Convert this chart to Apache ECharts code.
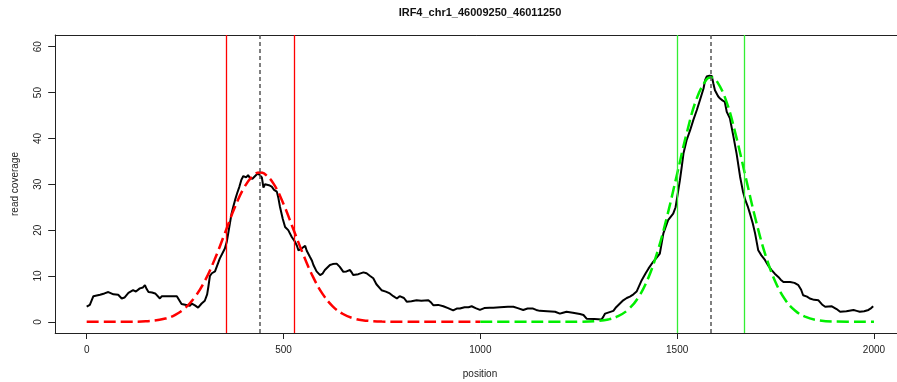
<!DOCTYPE html>
<html><head><meta charset="utf-8">
<script src="https://cdn.jsdelivr.net/npm/echarts@6/dist/echarts.min.js"></script>
<style>html,body{margin:0;padding:0;background:#fff}#c{width:897px;height:382px}</style>
</head><body><div id="c"></div>
<script>
const titleText = 'IRF4_chr1_46009250_46011250';
const xAxisTitle = 'position';
const yAxisTitle = 'read coverage';
const xTicks = [0, 500, 1000, 1500, 2000];
const yTicks = [0, 10, 20, 30, 40, 50, 60];

const covX = [0,8,13,17,21,34,45,55,68,80,89,96,106,118,125,135,143,148,152,157,166,174,186,191,229,241,245,262,267,275,283,288,292,300,306,309,313,318,326,330,338,343,351,356,360,368,372,377,382,388,393,398,405,410,415,421,428,435,440,445,449,453,457,463,470,476,483,487,491,498,504,512,517,521,525,529,534,538,546,555,559,567,572,576,584,593,599,605,610,618,625,635,643,652,660,669,673,677,690,703,711,720,728,736,749,760,770,779,788,795,800,806,813,825,838,850,868,875,881,893,906,918,931,940,948,960,970,978,988,999,1010,1024,1033,1050,1070,1084,1095,1109,1120,1134,1142,1151,1170,1190,1202,1210,1219,1235,1253,1262,1270,1290,1308,1313,1317,1338,1345,1350,1363,1372,1380,1389,1397,1410,1420,1427,1439,1448,1456,1465,1477,1490,1496,1499,1507,1512,1516,1524,1533,1541,1550,1558,1567,1571,1575,1582,1588,1592,1596,1604,1609,1615,1621,1626,1634,1643,1651,1660,1667,1673,1680,1685,1692,1698,1706,1714,1723,1732,1740,1748,1757,1763,1770,1787,1798,1808,1815,1820,1830,1837,1848,1859,1868,1876,1893,1905,1914,1930,1948,1956,1964,1975,1986,1993,1998];
const covY = [3.3,3.7,4.0,5.6,5.8,5.9,6.2,6.5,6.0,5.9,5.1,5.3,6.3,6.9,6.6,7.3,7.5,8.0,7.2,6.5,6.4,6.2,5.1,5.6,5.6,3.9,3.6,3.5,4.0,3.6,3.1,3.0,4.0,4.6,6.0,7.6,10.0,10.6,11.0,11.2,13.8,14.2,16.0,17.5,19.5,23.6,25.0,26.6,28.0,29.5,31.0,31.8,31.5,32.0,31.3,31.2,31.8,32.4,32.8,31.5,29.3,30.0,30.2,29.8,29.5,28.8,28.4,27.0,25.1,22.5,20.7,20.0,20.0,18.5,18.2,17.5,16.6,15.6,16.0,16.6,15.5,14.2,13.4,12.4,11.0,10.2,10.5,11.3,11.5,12.4,12.6,12.7,12.0,10.9,11.0,11.3,10.8,10.2,10.4,10.8,10.6,10.0,9.5,8.2,6.9,6.6,6.2,5.6,5.1,5.6,5.8,5.2,4.4,4.5,4.7,4.6,4.7,4.2,3.6,3.7,3.4,3.0,2.5,2.9,2.9,3.2,3.2,3.4,3.0,2.6,3.0,3.1,3.1,3.2,3.3,3.3,3.0,2.6,2.9,2.9,2.6,2.4,2.3,2.2,1.8,2.0,2.2,2.0,1.7,1.5,0.7,0.6,0.5,1.2,1.8,2.4,3.2,3.6,4.7,5.2,5.5,6.0,6.6,9.1,10.6,11.6,13.1,14.0,14.9,19.3,22.2,23.6,25.0,26.6,30.9,34.0,36.7,39.6,41.8,44.0,46.2,48.4,50.9,52.7,53.5,53.7,53.6,52.0,50.5,49.2,48.7,48.3,48.0,45.8,44.4,40.4,36.7,31.6,28.5,26.6,25.0,23.6,21.5,19.3,15.6,14.5,13.5,12.2,11.3,10.5,9.8,9.2,8.7,8.7,8.5,8.0,7.0,5.8,5.5,5.1,4.8,4.7,3.8,3.3,3.4,2.8,2.2,2.3,2.6,2.4,2.2,2.3,2.6,3.0,3.4];

const redFitX = [0,50,100,150,200,225,250,275,300,325,350,375,400,425,440,450,475,500,525,550,575,600,625,650,675,700,750,800,900,1000];
const redFitY = [0,0,0.02,0.13,0.73,1.54,3.0,5.4,8.9,13.6,19.1,24.7,29.3,32.1,32.6,32.4,30.1,25.7,20.2,14.7,9.8,6.0,3.4,1.77,0.85,0.37,0.06,0.01,0,0];
const greenFitX = [1000,1100,1200,1250,1300,1325,1350,1375,1400,1425,1450,1475,1500,1525,1550,1575,1586,1600,1625,1650,1675,1700,1725,1750,1775,1800,1825,1850,1900,2000];
const greenFitY = [0,0,0,0.03,0.21,0.53,1.24,2.63,5.14,9.24,15.3,23.2,32.3,41.4,48.8,52.9,53.3,52.6,48.1,40.4,31.2,22.1,14.4,8.65,4.76,2.41,1.12,0.48,0.07,0];

const redLines = [354, 527];
const peakLines = [440, 1586];
const greenLines = [1501, 1670];

const pairs = (xs, ys) => xs.map((x, i) => [x, ys[i]]);
const font = 'Liberation Sans, Arial, sans-serif';
const ink = '#222';

function vlines(name, xs, color, type, width) {
  return {
    name, type: 'line', data: [], silent: true,
    markLine: {
      silent: true, symbol: 'none', animation: false,
      label: { show: false },
      lineStyle: { color, type, width },
      data: xs.map(x => ({ xAxis: x }))
    }
  };
}

const chart = echarts.init(document.getElementById('c'), null, { renderer: 'canvas' });
chart.setOption({
  animation: false,
  backgroundColor: '#fff',
  grid: { left: 55.2, top: 35, right: 0, bottom: 49, containLabel: false },
  xAxis: [{
    type: 'value', min: -80, max: 2058.5,
    axisLine: { show: true, onZero: false, lineStyle: { color: ink, width: 1 } },
    axisTick: { show: true, customValues: xTicks, length: 6, lineStyle: { color: ink } },
    axisLabel: { customValues: xTicks, fontSize: 10, color: ink, margin: 12, fontFamily: font, formatter: v => String(v) },
    splitLine: { show: false }
  }, {
    type: 'value', min: -80, max: 2058.5, position: 'top',
    axisLine: { show: true, onZero: false, lineStyle: { color: ink, width: 1 } },
    axisTick: { show: false }, axisLabel: { show: false }, splitLine: { show: false }
  }],
  yAxis: [{
    type: 'value', min: -2.43, max: 62.56,
    axisLine: { show: true, onZero: false, lineStyle: { color: ink, width: 1 } },
    axisTick: { show: true, customValues: yTicks, length: 7, lineStyle: { color: ink } },
    axisLabel: { customValues: yTicks, fontSize: 10, color: ink, margin: 12, rotate: 90, fontFamily: font, formatter: v => String(v) },
    splitLine: { show: false }
  }],
  graphic: [
    { type: 'text', x: 480, y: 12.5, style: { text: titleText, font: 'bold 11px ' + font, fill: '#111', textAlign: 'center', textVerticalAlign: 'middle' } },
    { type: 'text', x: 480, y: 374, style: { text: xAxisTitle, font: '10px ' + font, fill: ink, textAlign: 'center', textVerticalAlign: 'middle' } },
    { type: 'text', x: 15, y: 184, rotation: Math.PI / 2, style: { text: yAxisTitle, font: '10px ' + font, fill: ink, textAlign: 'center', textVerticalAlign: 'middle' } }
  ],
  series: [
    { name: 'coverage', type: 'line', data: pairs(covX, covY), showSymbol: false, symbol: 'none',
      lineStyle: { color: '#000', width: 2 }, z: 3 },
    { name: 'redFit', type: 'line', data: pairs(redFitX, redFitY), showSymbol: false, symbol: 'none', smooth: 0.4,
      lineStyle: { color: '#ff0000', width: 2.5, type: [12, 5] }, z: 4 },
    { name: 'greenFit', type: 'line', data: pairs(greenFitX, greenFitY), showSymbol: false, symbol: 'none', smooth: 0.4,
      lineStyle: { color: '#00ee00', width: 2.5, type: [12, 5] }, z: 4 },
    vlines('redLines', redLines, '#ff0000', 'solid', 1.3),
    vlines('greenLines', greenLines, '#33ee33', 'solid', 1.3),
    vlines('peakLines', peakLines, '#555', [4, 3], 1.5)
  ]
});
</script>
</body></html>
